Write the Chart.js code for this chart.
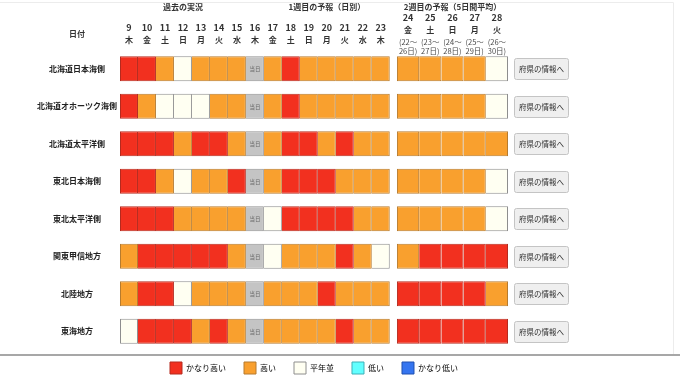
<!DOCTYPE html>
<html>
<head>
<meta charset="utf-8">
<script src="https://cdn.jsdelivr.net/npm/chart.js@4.4.1/dist/chart.umd.min.js"></script>
<style>
html,body{margin:0;padding:0;background:#fff;}
#wrap{width:680px;height:382px;position:relative;}
</style>
</head>
<body>
<div id="wrap"><canvas id="c" width="680" height="382"></canvas></div>
<script>
// ---------- data ----------
const regions = ['北海道日本海側','北海道オホーツク海側','北海道太平洋側','東北日本海側','東北太平洋側','関東甲信地方','北陸地方','東海地方'];
const week1Days = ['9','10','11','12','13','14','15','16','17','18','19','20','21','22','23'];
const week1Weekdays = ['木','金','土','日','月','火','水','木','金','土','日','月','火','水','木'];
const week2Days = ['24','25','26','27','28'];
const week2Weekdays = ['金','土','日','月','火'];
const week2RangeStart = ['(22～','(23～','(24～','(25～','(26～'];
const week2RangeEnd = ['26日)','27日)','28日)','29日)','30日)'];
const groupTitles = ['過去の実況','1週目の予報（日別）','2週目の予報（5日間平均）'];
const dateHeader = '日付';
const todayLabel = '当日';
const buttonLabel = '府県の情報へ';
const levelNames = ['かなり高い','高い','平年並','低い','かなり低い'];
const levelCodes = [2, 1, 0, -1, -2];
// 2=かなり高い 1=高い 0=平年並 -1=低い -2=かなり低い null=当日
const week1Levels = [
  [2,2,1,0,1,1,1,null,1,2,1,1,1,1,1],
  [2,1,0,0,0,1,1,null,1,2,1,1,1,1,1],
  [2,2,2,1,2,2,1,null,1,2,2,1,2,1,1],
  [2,2,1,0,1,1,2,null,1,2,2,2,1,1,1],
  [2,2,2,1,1,1,1,null,0,2,2,2,2,1,1],
  [1,2,2,2,2,2,1,null,0,1,1,1,2,1,0],
  [1,2,2,0,1,1,1,null,1,1,1,2,1,1,1],
  [0,2,2,2,1,2,1,null,1,1,1,1,2,1,1]
];
const week2Levels = [
  [1,1,1,1,0],
  [1,1,1,1,0],
  [1,1,1,1,1],
  [1,1,1,1,0],
  [1,1,1,1,0],
  [1,2,2,2,2],
  [2,2,2,2,1],
  [2,2,2,2,2]
];

// ---------- styles ----------
const FILL = {'2':'#F2301F','1':'#F9A02E','0':'#FFFFF2','-1':'#62FFFF','-2':'#3575F0'};
const EDGE = {'2':'#B52A1E','1':'#B67B2E','0':'#8E8E8E','-1':'#3FB0B8','-2':'#2050B0'};
const TODAY_FILL = '#C4C4C4', TODAY_EDGE = '#929292';
const FONT = '"Noto Sans CJK JP", "Noto Sans", sans-serif';
Chart.defaults.font.family = FONT;

// layout of columns along the linear x scale (week 2 cells are wider, with a gap)
const GAP = 0.4, W2 = 1.235;
const N1 = week1Days.length, N2 = week2Days.length;
const XMAX = N1 + GAP + N2 * W2;
function colSpan(block, j) {
  if (block === 0) return [j, j + 1];
  const s = N1 + GAP + j * W2;
  return [s, s + W2];
}
function colCenter(block, j) { const s = colSpan(block, j); return (s[0] + s[1]) / 2; }

function makeDataset(block, j) {
  const src = block === 0 ? week1Levels : week2Levels;
  const lv = (ctx) => src[ctx.dataIndex][j];
  return {
    label: (block === 0 ? week1Days : week2Days)[j],
    data: regions.map(() => colSpan(block, j)),
    grouped: false,
    backgroundColor: (ctx) => { const v = lv(ctx); return v === null ? TODAY_FILL : FILL[String(v)]; },
    borderColor: (ctx) => { const v = lv(ctx); return v === null ? TODAY_EDGE : EDGE[String(v)]; },
    borderWidth: 1,
    borderSkipped: j === 0 ? false : 'left',
    barPercentage: 0.67,
    categoryPercentage: 1
  };
}
const datasets = [];
week1Days.forEach((_, j) => datasets.push(makeDataset(0, j)));
week2Days.forEach((_, j) => datasets.push(makeDataset(1, j)));

const LEGEND_PAD = 18;
const decor = {
  id: 'decor',
  beforeInit(chart) {
    const lg = chart.legend;
    if (lg) {
      const f = lg.fit;
      lg.fit = function () { f.call(this); this.height = 32; };
    }
  },
  afterLayout(chart) {
    const lg = chart.legend;
    if (lg) { lg.top -= 6; lg.bottom -= 6; }
  },
  afterDatasetsDraw(chart) {
    const {ctx, chartArea: ca, scales: {x, y}} = chart;
    ctx.save();
    ctx.textAlign = 'center';
    ctx.textBaseline = 'middle';
    // 当日 marks
    ctx.font = '5.5px ' + FONT;
    ctx.fillStyle = '#6a6a6a';
    week1Levels.forEach((row, i) => row.forEach((v, j) => {
      if (v === null) ctx.fillText(todayLabel, x.getPixelForValue(colCenter(0, j)), y.getPixelForValue(i) + 0.5);
    }));
    // buttons
    regions.forEach((r, i) => {
      const cy = y.getPixelForValue(i);
      const bx = Math.round(ca.right + 6) + 0.5, by = Math.round(cy - 10.5) + 0.5;
      ctx.beginPath();
      ctx.roundRect(bx, by, 54, 21, 2);
      ctx.fillStyle = '#EFEFEF';
      ctx.fill();
      ctx.strokeStyle = '#C4C4C4';
      ctx.lineWidth = 1;
      ctx.stroke();
      ctx.fillStyle = '#333';
      ctx.font = '7.5px ' + FONT;
      ctx.fillText(buttonLabel, bx + 27, cy + 0.5);
    });
    ctx.restore();
  },
  afterDraw(chart) {
    const {ctx, chartArea: ca, scales: {x}} = chart;
    ctx.save();
    ctx.textAlign = 'center';
    ctx.textBaseline = 'middle';
    ctx.fillStyle = '#333';
    // group titles
    ctx.font = 'bold 8px ' + FONT;
    ctx.fillText(groupTitles[0], x.getPixelForValue((colSpan(0, 0)[0] + colSpan(0, 6)[1]) / 2), 7);
    ctx.fillText(groupTitles[1], x.getPixelForValue((colSpan(0, 8)[0] + colSpan(0, N1 - 1)[1]) / 2), 7);
    ctx.fillText(groupTitles[2], x.getPixelForValue((colSpan(1, 0)[0] + colSpan(1, N2 - 1)[1]) / 2), 7);
    ctx.fillText(dateHeader, ca.left - 43, 34);
    // week 1 day labels
    week1Days.forEach((d, j) => {
      const cx = x.getPixelForValue(colCenter(0, j));
      ctx.font = 'bold 9px ' + FONT;
      ctx.fillText(d, cx, 28);
      ctx.font = 'bold 8px ' + FONT;
      ctx.fillText(week1Weekdays[j], cx, 40);
    });
    // week 2 day labels
    week2Days.forEach((d, j) => {
      const cx = x.getPixelForValue(colCenter(1, j));
      ctx.fillStyle = '#333';
      ctx.font = 'bold 9px ' + FONT;
      ctx.fillText(d, cx, 18);
      ctx.font = 'bold 8px ' + FONT;
      ctx.fillText(week2Weekdays[j], cx, 30);
      ctx.fillStyle = '#4a4a4a';
      ctx.font = '7.5px ' + FONT;
      ctx.fillText(week2RangeStart[j], cx, 42);
      ctx.fillText(week2RangeEnd[j], cx, 51);
    });
    // divider above legend & faint frame
    ctx.strokeStyle = '#8a8a8a';
    ctx.lineWidth = 1.3;
    ctx.beginPath();
    ctx.moveTo(0, ca.bottom + 5);
    ctx.lineTo(chart.width, ca.bottom + 5);
    ctx.stroke();
    ctx.strokeStyle = '#ececec';
    ctx.lineWidth = 1;
    ctx.beginPath();
    ctx.moveTo(0, 2.5);
    ctx.lineTo(673.5, 2.5);
    ctx.lineTo(673.5, ca.bottom + 4);
    ctx.stroke();
    ctx.restore();
  }
};

new Chart(document.getElementById('c'), {
  type: 'bar',
  data: { labels: regions, datasets },
  options: {
    indexAxis: 'y',
    responsive: false,
    animation: false,
    events: [],
    layout: { padding: { top: 50, right: 172, left: 0, bottom: 0 } },
    scales: {
      x: { type: 'linear', min: 0, max: XMAX, display: false },
      y: {
        type: 'category',
        grid: { display: false, drawTicks: false },
        border: { display: false },
        ticks: {
          autoSkip: false,
          crossAlign: 'center',
          padding: 3,
          color: '#222',
          font: { size: 8, weight: 'bold', family: FONT }
        },
        afterFit: (scale) => { scale.width = 120; }
      }
    },
    plugins: {
      tooltip: { enabled: false },
      legend: {
        position: 'bottom',
        fullSize: false,
        onClick: null,
        labels: {
          boxWidth: 12,
          boxHeight: 12,
          padding: LEGEND_PAD,
          color: '#333',
          font: { size: 8, family: FONT },
          generateLabels: () => levelNames.map((t, i) => ({
            text: t,
            fillStyle: FILL[String(levelCodes[i])],
            strokeStyle: EDGE[String(levelCodes[i])],
            lineWidth: 1,
            hidden: false
          }))
        }
      }
    }
  },
  plugins: [decor]
});
</script>
</body>
</html>
